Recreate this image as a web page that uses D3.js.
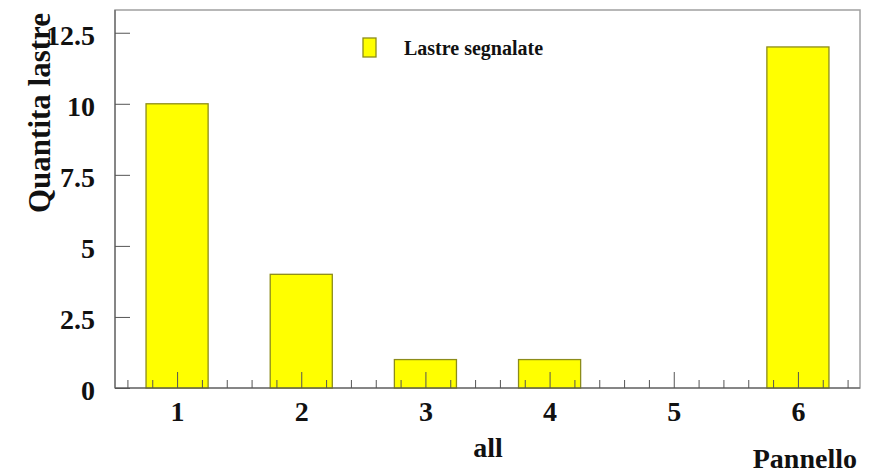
<!DOCTYPE html>
<html>
<head>
<meta charset="utf-8">
<script src="https://cdn.jsdelivr.net/npm/d3@7"></script>
<style>
  body { margin: 0; background: #fff; }
  text { font-family: "Liberation Serif", "Times New Roman", serif; font-weight: bold; }
</style>
</head>
<body>
<div id="chart"></div>
<script>
// data
const panels = [1, 2, 3, 4, 5, 6];
const counts = [10, 4, 1, 1, 0, 12];
const yTicks = [0, 2.5, 5, 7.5, 10, 12.5];
const seriesName = "Lastre segnalate";

const width = 873, height = 474;
const mLeft = 115, mRight = 860, mTop = 10, mBottom = 388;

const svg = d3.select("#chart").append("svg")
  .attr("width", width).attr("height", height);

const x = d3.scaleLinear().domain([0.5, 6.5]).range([mLeft, mRight]);
const y = d3.scaleLinear().domain([0, 13.3]).range([mBottom, mTop]);

// frame
svg.append("rect")
  .attr("x", mLeft).attr("y", mTop)
  .attr("width", mRight - mLeft).attr("height", mBottom - mTop)
  .attr("fill", "none").attr("stroke", "#a0a0a0").attr("stroke-width", 1.5);

// bars
const data = panels.map((p, i) => ({ p, v: counts[i] }));
svg.selectAll("rect.bar")
  .data(data.filter(d => d.v > 0))
  .join("rect")
  .attr("class", "bar")
  .attr("x", d => x(d.p - 0.25))
  .attr("width", d => x(d.p + 0.25) - x(d.p - 0.25))
  .attr("y", d => y(d.v))
  .attr("height", d => y(0) - y(d.v))
  .attr("fill", "#ffff00")
  .attr("stroke", "#8c8c1a")
  .attr("stroke-width", 1.3);

// x axis: major + minor ticks
const minor = d3.range(0.6, 6.45, 0.2).filter(t => Math.abs(t - Math.round(t)) > 0.01);
svg.append("g")
  .attr("transform", `translate(0,${mBottom})`)
  .call(d3.axisTop(x).tickValues(minor).tickSize(8).tickFormat(""))
  .call(g => g.select(".domain").remove())
  .selectAll("line").attr("stroke", "#555");

const xAxis = svg.append("g")
  .attr("transform", `translate(0,${mBottom})`)
  .call(d3.axisTop(x).tickValues(panels).tickSize(16).tickFormat(d3.format("d")));
xAxis.select(".domain").attr("stroke", "#555").attr("d", `M${mLeft},0H${mRight}`);
xAxis.selectAll("line").attr("stroke", "#555");
xAxis.selectAll("text")
  .attr("y", 33).attr("dy", 0)
  .attr("font-size", 28).attr("fill", "#111");

// y axis
const yAxis = svg.append("g")
  .attr("transform", `translate(${mLeft},0)`)
  .call(d3.axisRight(y).tickValues(yTicks).tickSize(15).tickFormat(d3.format("")));
yAxis.select(".domain").attr("stroke", "#555").attr("d", `M0,${mBottom}V${mTop}`);
yAxis.selectAll("line").attr("stroke", "#555");
yAxis.selectAll("text")
  .attr("x", -20).attr("dy", "0.42em")
  .attr("text-anchor", "end")
  .attr("font-size", 28).attr("fill", "#111");

// axis titles
svg.append("text")
  .attr("transform", "translate(50,113) rotate(-90)")
  .attr("text-anchor", "middle")
  .attr("font-size", 31).attr("fill", "#111")
  .text("Quantita lastre");

svg.append("text")
  .attr("x", 488).attr("y", 457)
  .attr("text-anchor", "middle")
  .attr("font-size", 28).attr("fill", "#111")
  .text("all");

svg.append("text")
  .attr("x", 857).attr("y", 468)
  .attr("text-anchor", "end")
  .attr("font-size", 28).attr("fill", "#111")
  .text("Pannello");

// legend
svg.append("rect")
  .attr("x", 363).attr("y", 38).attr("width", 13).attr("height", 19)
  .attr("fill", "#ffff00").attr("stroke", "#8c8c1a").attr("stroke-width", 1.3);
svg.append("text")
  .attr("x", 404).attr("y", 55)
  .attr("font-size", 20).attr("fill", "#111")
  .text(seriesName);
</script>
</body>
</html>
